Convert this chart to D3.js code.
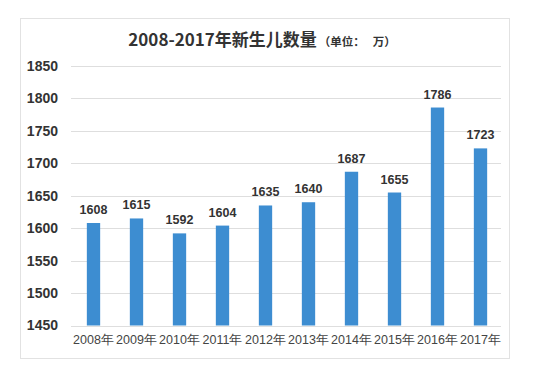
<!DOCTYPE html>
<html>
<head>
<meta charset="utf-8">
<script src="https://cdn.jsdelivr.net/npm/d3@7"></script>
<style>
html,body{margin:0;padding:0;background:#fff;}
svg{display:block;font-family:"Noto Sans CJK SC","Liberation Sans",Arial,sans-serif;}
</style>
</head>
<body>
<svg id="chart" width="544" height="372"></svg>
<script>
const years = ["2008年","2009年","2010年","2011年","2012年","2013年","2014年","2015年","2016年","2017年"];
const births = [1608,1615,1592,1604,1635,1640,1687,1655,1786,1723];
const yTicks = [1450,1500,1550,1600,1650,1700,1750,1800,1850];
const titleMain = "2008-2017年新生儿数量";
const titleUnit = "（单位：\u00a0\u00a0\u00a0万）";

const svg = d3.select("#chart");

// frame
svg.append("rect").attr("x",20.5).attr("y",18.5).attr("width",489).attr("height",340)
  .attr("fill","#fff").attr("stroke","#e2e2e2");

const x = d3.scaleBand().domain(years).range([72,502]).paddingInner(0.69).paddingOuter(0.345);
const y = d3.scaleLinear().domain([1450,1850]).range([325.5,66]);

// grid
svg.append("g").selectAll("line").data(yTicks).join("line")
  .attr("x1",71).attr("x2",501)
  .attr("y1",d=>Math.round(y(d))+0.5).attr("y2",d=>Math.round(y(d))+0.5)
  .attr("stroke","#dedede").attr("stroke-width",1);

// y axis labels
const yAxis = d3.axisLeft(y).tickValues(yTicks).tickFormat(d3.format("d")).tickSize(0).tickPadding(0);
const gy = svg.append("g").attr("transform","translate(58,0)").call(yAxis);
gy.select(".domain").remove();
gy.selectAll("text").attr("font-size",14).attr("font-weight","bold").attr("fill","#333")
  .attr("font-family","'Liberation Sans',Arial,sans-serif");

// bars
svg.append("g").selectAll("rect").data(births).join("rect")
  .attr("x",(d,i)=>x(years[i]))
  .attr("width",x.bandwidth())
  .attr("y",d=>y(d))
  .attr("height",d=>y(1450)-y(d))
  .attr("fill","#3d8dd1");

// value labels
svg.append("g").selectAll("text").data(births).join("text")
  .attr("x",(d,i)=>x(years[i])+x.bandwidth()/2)
  .attr("y",d=>y(d)-9)
  .attr("text-anchor","middle")
  .attr("font-size",12.5).attr("font-weight","bold").attr("fill","#333")
  .attr("font-family","'Liberation Sans',Arial,sans-serif")
  .text(d=>d);

// x axis labels
const xAxis = d3.axisBottom(x).tickSize(0).tickPadding(0);
const gx = svg.append("g").attr("transform","translate(0,335)").call(xAxis);
gx.select(".domain").remove();
gx.selectAll("text").attr("font-size",12.5).attr("fill","#444").attr("dy","0.7em");

// title
const t = svg.append("text").attr("x",262).attr("y",46).attr("text-anchor","middle").attr("fill","#333").attr("font-weight","bold");
t.append("tspan").attr("font-size",17).text(titleMain);
t.append("tspan").attr("font-size",11.5).attr("dx",2).text(titleUnit);
</script>
</body>
</html>
